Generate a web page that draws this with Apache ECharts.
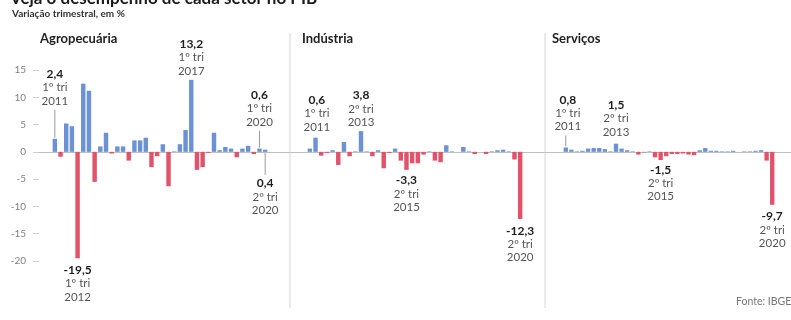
<!DOCTYPE html>
<html>
<head>
<meta charset="utf-8">
<script src="https://cdn.jsdelivr.net/npm/echarts@6/dist/echarts.min.js"></script>
<style>
  html, body { margin: 0; padding: 0; background: #fff; }
  #chart { width: 791px; height: 320px; }
</style>
</head>
<body>
<div id="chart"></div>
<script>
// Quarters from 1st quarter 2011 to 2nd quarter 2020
const quarters = [
  '1T11','2T11','3T11','4T11','1T12','2T12','3T12','4T12',
  '1T13','2T13','3T13','4T13','1T14','2T14','3T14','4T14',
  '1T15','2T15','3T15','4T15','1T16','2T16','3T16','4T16',
  '1T17','2T17','3T17','4T17','1T18','2T18','3T18','4T18',
  '1T19','2T19','3T19','4T19','1T20','2T20'
];

// Quarterly change, in %
const agro = [
  2.4, -0.9, 5.2, 4.7, -19.5, 12.5, 11.2, -5.5,
  1.0, 3.5, -0.3, 1.0, 1.0, -1.6, 2.1, 2.1,
  2.6, -2.8, -0.8, 1.4, -6.3, 0.1, 1.4, 4.0,
  13.2, -3.3, -2.8, -0.2, 3.5, 0.3, 0.9, 0.6,
  -1.0, 0.6, 1.1, -0.4, 0.6, 0.4
];
const industria = [
  0.6, 2.6, -0.7, -0.2, 0.3, -2.4, 1.8, -0.8,
  0.1, 3.8, 0.1, -0.8, 0.3, -3.0, -0.2, 0.6,
  -1.6, -3.3, -2.1, -2.1, -0.5, 0.1, -1.6, -1.9,
  1.2, 0.1, 0.0, 0.9, 0.1, -0.4, 0.0, -0.4,
  0.1, 0.3, 0.4, 0.1, -1.4, -12.3
];
const servicos = [
  0.8, 0.4, 0.1, 0.2, 0.6, 0.7, 0.7, 0.5,
  0.1, 1.5, 0.6, 0.3, 0.1, -0.5, -0.1, 0.1,
  -1.0, -1.5, -0.8, -0.4, -0.4, -0.3, -0.5, -0.6,
  0.3, 0.7, 0.2, 0.2, 0.1, 0.1, 0.2, 0.0,
  0.1, 0.1, 0.2, 0.3, -1.6, -9.7
];

// Y axis scale
const yMin = -20, yMax = 15, yStep = 5;

// Panel titles
const sectors = ['Agropecuária', 'Indústria', 'Serviços'];

// Highlighted quarters: [quarter index, period, year]
const agroNotes = [[0, '1º tri', '2011'], [4, '1º tri', '2012'], [24, '1º tri', '2017'], [36, '1º tri', '2020'], [37, '2º tri', '2020']];
const industriaNotes = [[0, '1º tri', '2011'], [9, '2º tri', '2013'], [17, '2º tri', '2015'], [37, '2º tri', '2020']];
const servicosNotes = [[0, '1º tri', '2011'], [9, '2º tri', '2013'], [17, '2º tri', '2015'], [37, '2º tri', '2020']];

// Placement of each annotation (side, distance from bar in px, leader line, horizontal shift)
const agroNoteLayout = [
  { side: 'up', gap: 31, line: true },
  { side: 'down', gap: 5 },
  { side: 'up', gap: 2 },
  { side: 'up', gap: 20, line: true },
  { side: 'down', gap: 25, line: true }
];
const industriaNoteLayout = [
  { side: 'up', gap: 15, dx: 7 },
  { side: 'up', gap: 2 },
  { side: 'down', gap: 4 },
  { side: 'down', gap: 5 }
];
const servicosNoteLayout = [
  { side: 'up', gap: 14, line: true, dx: 2 },
  { side: 'up', gap: 5 },
  { side: 'down', gap: 3 },
  { side: 'down', gap: 5 }
];

const FONT = 'Lato, "Noto Sans", sans-serif';
const BLUE = '#6d92d3';
const RED = '#e2536b';

const chart = echarts.init(document.getElementById('chart'), null, { renderer: 'canvas' });

const plotTop = 70, plotHeight = 191;
const panelGrids = [
  { left: 52, width: 216 },
  { left: 307, width: 216 },
  { left: 563, width: 212 }
];

const fmt = v => v.toFixed(1).replace('.', ',');

function barSeries(idx, values) {
  return {
    type: 'bar',
    xAxisIndex: idx,
    yAxisIndex: idx,
    barWidth: '78%',
    silent: true,
    data: values,
    itemStyle: { color: p => (p.value < 0 ? RED : BLUE) }
  };
}

function noteSeries(idx, values, notes, layout) {
  return {
    type: 'custom',
    xAxisIndex: idx,
    yAxisIndex: idx,
    silent: true,
    z: 10,
    data: notes.map(n => [n[0], values[n[0]]]),
    renderItem(params, api) {
      const n = notes[params.dataIndex];
      const L = layout[params.dataIndex];
      const i = api.value(0);
      const v = api.value(1);
      const down = L.side === 'down';
      const base = down ? Math.min(v, 0) : Math.max(v, 0);
      const p = api.coord([i, base]);
      const dir = down ? 1 : -1;
      const children = [];
      if (L.line) {
        children.push({
          type: 'line',
          shape: { x1: p[0], y1: p[1] + dir * 1, x2: p[0], y2: p[1] + dir * (L.gap - 2) },
          style: { stroke: '#9a9a9a', lineWidth: 1 }
        });
      }
      children.push({
        type: 'text',
        style: {
          text: '{v|' + fmt(v) + '}\n{t|' + n[1] + '}\n{t|' + n[2] + '}',
          x: p[0] + (L.dx || 0),
          y: p[1] + dir * L.gap,
          align: 'center',
          verticalAlign: down ? 'top' : 'bottom',
          rich: {
            v: { fontFamily: FONT, fontSize: 12, fontWeight: 'bold', fill: '#1e1e1e', lineHeight: 13.5, align: 'center' },
            t: { fontFamily: FONT, fontSize: 11.5, fill: '#555', lineHeight: 13.5, align: 'center' }
          }
        }
      });
      return { type: 'group', children };
    }
  };
}

const grids = [{ left: 39, right: 0, top: plotTop, height: plotHeight, outerBoundsMode: 'none' }]
  .concat(panelGrids.map(g => ({ left: g.left, width: g.width, top: plotTop, height: plotHeight, outerBoundsMode: 'none' })));

const xAxes = [{
  gridIndex: 0, type: 'value', min: 0, max: 1,
  axisLine: { show: true, onZero: true, lineStyle: { color: '#c0c0c0', width: 1 } },
  axisTick: { show: false }, axisLabel: { show: false }, splitLine: { show: false }
}].concat(panelGrids.map((g, k) => ({
  gridIndex: k + 1, type: 'category', data: quarters, show: false
})));

const yAxes = [{
  gridIndex: 0, type: 'value', min: yMin, max: yMax, interval: yStep,
  axisLine: { show: false },
  axisTick: { show: true, length: 6, lineStyle: { color: '#cfcfcf' } },
  axisLabel: { color: '#808080', fontFamily: FONT, fontSize: 10, margin: 13 },
  splitLine: { show: false }
}].concat(panelGrids.map((g, k) => ({
  gridIndex: k + 1, type: 'value', min: yMin, max: yMax, interval: yStep, show: false, splitLine: { show: false }
})));

const option = {
  animation: false,
  backgroundColor: '#fff',
  grid: grids,
  xAxis: xAxes,
  yAxis: yAxes,
  series: [
    { type: 'line', xAxisIndex: 0, yAxisIndex: 0, data: [], silent: true },
    barSeries(1, agro),
    barSeries(2, industria),
    barSeries(3, servicos),
    noteSeries(1, agro, agroNotes, agroNoteLayout),
    noteSeries(2, industria, industriaNotes, industriaNoteLayout),
    noteSeries(3, servicos, servicosNotes, servicosNoteLayout)
  ],
  graphic: [
    { type: 'text', left: 10, top: -10, style: { text: 'Veja o desempenho de cada setor no PIB', font: 'bold 17px ' + FONT, fill: '#1a1a1a' } },
    { type: 'text', left: 12, top: 9, style: { text: 'Variação trimestral, em %', font: 'bold 10px ' + FONT, fill: '#333' } },
    { type: 'text', left: 40, top: 32, style: { text: sectors[0], font: 'bold 13px ' + FONT, fill: '#222' } },
    { type: 'text', left: 302, top: 32, style: { text: sectors[1], font: 'bold 13px ' + FONT, fill: '#222' } },
    { type: 'text', left: 552, top: 32, style: { text: sectors[2], font: 'bold 13px ' + FONT, fill: '#222' } },
    { type: 'line', shape: { x1: 290, y1: 33, x2: 290, y2: 308 }, style: { stroke: '#e3e3e3', lineWidth: 1.5 }, silent: true },
    { type: 'line', shape: { x1: 545, y1: 33, x2: 545, y2: 308 }, style: { stroke: '#e3e3e3', lineWidth: 1.5 }, silent: true },
    { type: 'text', left: 736, top: 296, style: { text: 'Fonte: IBGE', font: '10.5px ' + FONT, fill: '#777' } }
  ]
};

chart.setOption(option);
</script>
</body>
</html>
